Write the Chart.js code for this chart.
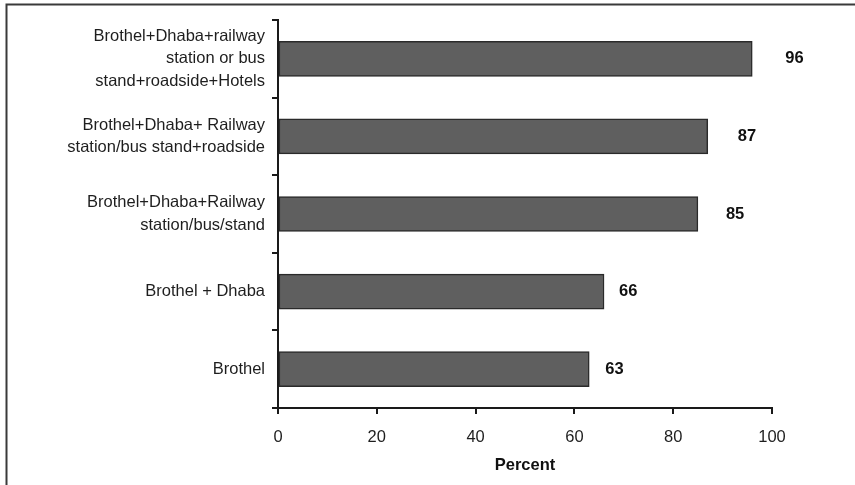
<!DOCTYPE html>
<html>
<head>
<meta charset="utf-8">
<script src="https://cdn.jsdelivr.net/npm/chart.js@4/dist/chart.umd.min.js"></script>
<style>
  html, body { margin: 0; padding: 0; background: #fff; }
  #wrap { width: 855px; height: 485px; position: relative; }
</style>
</head>
<body>
<div id="wrap"><canvas id="c" width="855" height="485"></canvas></div>
<script>
// Places of solicitation (multi-line category labels)
const categories = [
  ["Brothel+Dhaba+railway", "station or bus", "stand+roadside+Hotels"],
  ["Brothel+Dhaba+ Railway", "station/bus stand+roadside"],
  ["Brothel+Dhaba+Railway", "station/bus/stand"],
  "Brothel + Dhaba",
  "Brothel"
];
const percentValues = [96, 87, 85, 66, 63];
const xTicks = [0, 20, 40, 60, 80, 100];
const xTitle = "Percent";

const FONT = "'Liberation Sans', Arial, Helvetica, sans-serif";
const TEXT = "#1e1e1e";
const SIZE = 16.5;

// Horizontal distance from each bar end to its value label
const labelGaps = [33, 30, 28, 15, 16];

const valueLabels = {
  id: "valueLabels",
  afterDatasetsDraw(chart) {
    const ctx = chart.ctx;
    const meta = chart.getDatasetMeta(0);
    ctx.save();
    ctx.font = "bold " + SIZE + "px " + FONT;
    ctx.fillStyle = "#111";
    ctx.textAlign = "left";
    ctx.textBaseline = "middle";
    meta.data.forEach((bar, i) => {
      const v = chart.data.datasets[0].data[i];
      ctx.fillText(String(v), bar.x + labelGaps[i], bar.y);
    });
    ctx.restore();
  }
};

const frame = {
  id: "frame",
  afterDraw(chart) {
    const ctx = chart.ctx;
    ctx.save();
    ctx.strokeStyle = "#3a3a3a";
    ctx.lineWidth = 2;
    ctx.strokeRect(6.5, 4.5, 900, 600);
    ctx.restore();
  }
};

new Chart(document.getElementById("c"), {
  type: "bar",
  data: {
    labels: categories,
    datasets: [{
      data: percentValues,
      backgroundColor: "#5f5f5f",
      borderColor: "#2a2a2a",
      borderWidth: 1.5,
      borderSkipped: false,
      barThickness: 35
    }]
  },
  options: {
    indexAxis: "y",
    responsive: false,
    animation: false,
    layout: { padding: { left: 0, right: 83, top: 20, bottom: 0 } },
    plugins: {
      legend: { display: false },
      tooltip: { enabled: false }
    },
    scales: {
      x: {
        min: 0,
        max: 100,
        afterBuildTicks(scale) {
          scale.ticks = xTicks.map(v => ({ value: v }));
        },
        afterFit(scale) { scale.height = 77; },
        border: { display: true, color: "#1a1a1a", width: 2 },
        grid: { drawOnChartArea: false, drawTicks: true, tickLength: 6, color: "#1a1a1a", lineWidth: 2 },
        ticks: { color: TEXT, font: { family: FONT, size: SIZE }, padding: 14, maxRotation: 0 },
        title: {
          display: true,
          text: xTitle,
          color: "#111",
          font: { family: FONT, size: SIZE, weight: "bold" },
          padding: { top: 0, bottom: 10 }
        }
      },
      y: {
        afterFit(scale) { scale.width = 278; },
        border: { display: true, color: "#1a1a1a", width: 2 },
        grid: { drawOnChartArea: false, drawTicks: true, tickLength: 6, color: "#1a1a1a", lineWidth: 2, offset: true },
        ticks: { color: TEXT, font: { family: FONT, size: SIZE, lineHeight: 1.36 }, padding: 7, autoSkip: false }
      }
    }
  },
  plugins: [valueLabels, frame]
});
</script>
</body>
</html>
